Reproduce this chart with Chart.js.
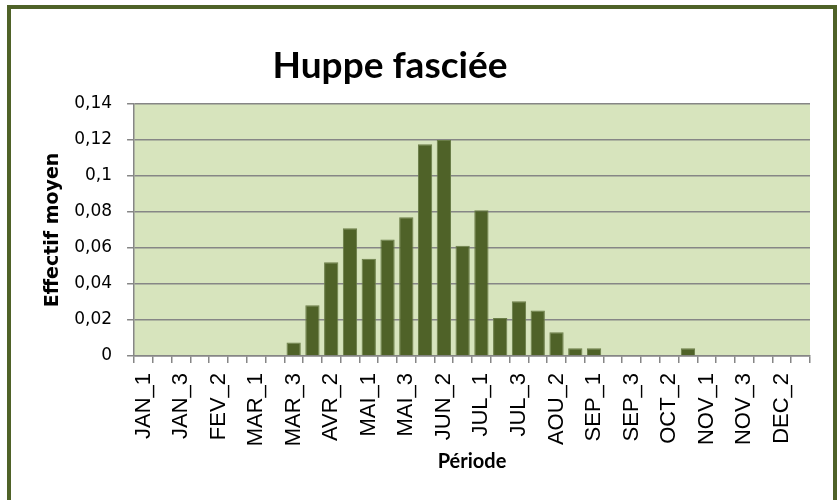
<!DOCTYPE html>
<html>
<head>
<meta charset="utf-8">
<script src="https://cdn.jsdelivr.net/npm/chart.js@4.4.1/dist/chart.umd.min.js"></script>
<style>
  html, body { margin: 0; padding: 0; background: #fff; }
  #frame {
    position: absolute; left: 7px; top: 5px;
    width: 822px; height: 600px;
    border: 4px solid #4F6228;
  }
  #wrap { position: absolute; left: 0; top: 0; width: 840px; height: 500px; overflow: hidden; }
</style>
</head>
<body>
<div id="wrap">
  <div id="frame"></div>
  <canvas id="huppeChart" width="840" height="500" style="position:absolute;left:0;top:0;"></canvas>
</div>
<script>
/* Huppe fasciée — effectif moyen par décade */
const periodes = [
  'JAN_1','JAN_2','JAN_3','FEV_1','FEV_2','FEV_3',
  'MAR_1','MAR_2','MAR_3','AVR_1','AVR_2','AVR_3',
  'MAI_1','MAI_2','MAI_3','JUN_1','JUN_2','JUN_3',
  'JUL_1','JUL_2','JUL_3','AOU_1','AOU_2','AOU_3',
  'SEP_1','SEP_2','SEP_3','OCT_1','OCT_2','OCT_3',
  'NOV_1','NOV_2','NOV_3','DEC_1','DEC_2','DEC_3'
];

const effectifMoyen = [
  0, 0, 0, 0, 0, 0,
  0, 0, 0.0074, 0.0282, 0.052, 0.071,
  0.054, 0.0647, 0.077, 0.1176, 0.12, 0.0613,
  0.081, 0.0211, 0.0304, 0.0252, 0.0132, 0.0043,
  0.0043, 0, 0, 0, 0, 0.0043,
  0, 0, 0, 0, 0, 0
];

const yTicks = [0, 0.02, 0.04, 0.06, 0.08, 0.1, 0.12, 0.14];

// green plot area behind the bars
const plotBackground = {
  id: 'plotBackground',
  beforeDraw(chart) {
    const { ctx, chartArea: a } = chart;
    ctx.save();
    ctx.fillStyle = '#D7E4BD';
    ctx.fillRect(a.left, a.top, a.right - a.left, a.bottom - a.top);
    ctx.restore();
  }
};

// title sits left of centre, like the original sheet
const chartTitle = {
  id: 'chartTitle',
  afterDraw(chart) {
    const ctx = chart.ctx;
    ctx.save();
    ctx.font = 'bold 37px Lato';
    ctx.fillStyle = '#000';
    ctx.textAlign = 'center';
    ctx.textBaseline = 'alphabetic';
    ctx.fillText('Huppe fasciée', 390, 78);
    ctx.restore();
  }
};

const ctx = document.getElementById('huppeChart').getContext('2d');
new Chart(ctx, {
  type: 'bar',
  data: {
    labels: periodes,
    datasets: [{
      label: 'Effectif moyen',
      data: effectifMoyen,
      backgroundColor: '#4F6228',
      borderColor: '#6A7D48',
      borderWidth: 1,
      categoryPercentage: 1,
      barPercentage: 0.76
    }]
  },
  options: {
    responsive: false,
    animation: false,
    layout: { padding: { top: 104, right: 30, bottom: 26.7, left: 43.5 } },
    plugins: {
      legend: { display: false },
      tooltip: { enabled: false },
      title: { display: false }
    },
    scales: {
      y: {
        min: 0,
        max: 0.14,
        afterBuildTicks: (axis) => { axis.ticks = yTicks.map(v => ({ value: v })); },
        ticks: {
          padding: 15,
          color: '#000',
          font: { family: 'DejaVu Sans', size: 17 },
          callback: (v) => String(Math.round(v * 100) / 100).replace('.', ',')
        },
        grid: { color: '#868686', lineWidth: 1.5, tickLength: 7 },
        border: { color: '#868686', width: 1.5 },
        title: {
          display: true,
          text: 'Effectif moyen',
          color: '#000',
          font: { family: 'DejaVu Sans', size: 19, weight: 'bold', lineHeight: 1 },
          padding: { top: 0, bottom: -3.3 }
        }
      },
      x: {
        ticks: {
          autoSkip: false,
          maxRotation: 90,
          minRotation: 90,
          padding: 10,
          color: '#000',
          font: { family: 'Liberation Sans', size: 22 },
          callback: function (v, i) { return i % 2 === 0 ? this.getLabelForValue(v) : ''; }
        },
        grid: { drawOnChartArea: false, color: '#868686', lineWidth: 1.5, tickLength: 7, offset: true },
        border: { color: '#868686', width: 1.5 },
        title: {
          display: true,
          text: 'Période',
          color: '#000',
          font: { family: 'Lato', size: 20, weight: 'bold' },
          padding: { top: -7, bottom: 0 }
        }
      }
    }
  },
  plugins: [plotBackground, chartTitle]
});
</script>
</body>
</html>
